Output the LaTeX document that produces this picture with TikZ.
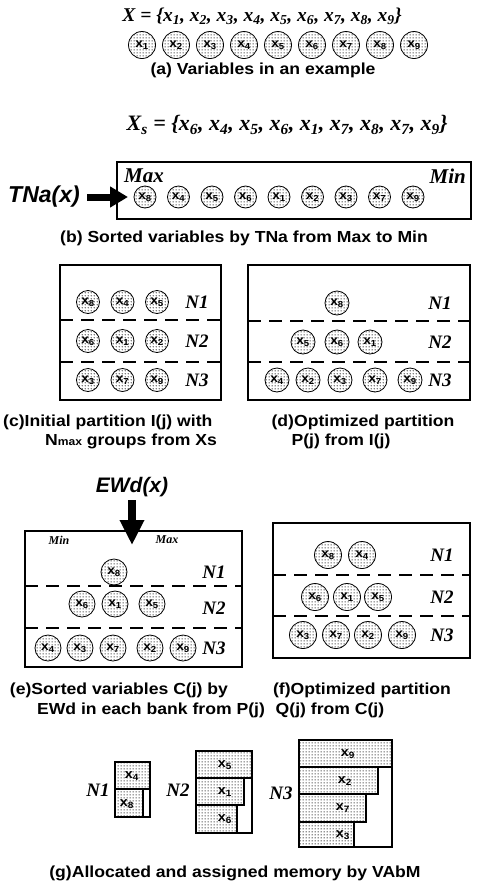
\documentclass[tikz,border=0pt]{standalone}
\usepackage{fontspec}
\setmainfont{Liberation Serif}
\setsansfont{Liberation Sans}
\newfontfamily\capfont{Liberation Sans}[FakeStretch=1.1]
\usetikzlibrary{patterns,arrows.meta}
\pgfdeclarepatternformonly{sdots}{\pgfpointorigin}{\pgfpoint{2.6pt}{2.6pt}}{\pgfpoint{2.6pt}{2.6pt}}{%
  \pgfpathcircle{\pgfpoint{1.3pt}{1.3pt}}{0.65pt}\pgfusepath{fill}}
\newcommand\sbx[1]{x\textsubscript{#1}}
\begin{document}
\begin{tikzpicture}[x=1pt,y=-1pt,
  var/.style={circle,draw,line width=0.8pt,pattern=sdots,pattern color=black,inner sep=0pt,minimum size=#1,
    font=\capfont\bfseries\fontsize{12.5}{12.5}\selectfont},
  var/.default=23pt,
  captxt/.style={font=\capfont\bfseries\fontsize{16}{18}\selectfont,inner sep=0pt},
  eqa/.style={font=\bfseries\itshape\fontsize{#1}{#1}\selectfont,inner sep=0pt},
  nlab/.style={font=\bfseries\itshape\fontsize{19}{19}\selectfont,inner sep=0pt},
  mm/.style={font=\bfseries\itshape\fontsize{#1}{#1}\selectfont,inner sep=0pt},
  panel/.style={draw,line width=1.2pt},
  dsep/.style={line width=2.6pt,dash pattern=on 13pt off 8pt},
  bigtxt/.style={font=\sffamily\bfseries\itshape\fontsize{#1}{#1}\selectfont,inner sep=0pt},
  cellbox/.style={draw,line width=2.4pt,pattern=sdots,pattern color=black},
  celltxt/.style={font=\capfont\bfseries\fontsize{13}{13}\selectfont,inner sep=0pt},
  blk/.style={draw,line width=2.4pt}]
\useasboundingbox (0,0) rectangle (478,892);
% (a)
\node[eqa=19.5] (eqa) at (262,16) {X = \{\sbx{1}, \sbx{2}, \sbx{3}, \sbx{4}, \sbx{5}, \sbx{6}, \sbx{7}, \sbx{8}, \sbx{9}\}};
\foreach \i in {1,...,9}{
  \node[var=27pt] (a\i) at ({142+34*(\i-1)},45) {\sbx{\i}};
}
\node[captxt] (capa) at (263,70) {(a) Variables in an example};
% (b)
\node[eqa=22] (eqb) at (287,125) {X\textsubscript{s} = \{\sbx{6}, \sbx{4}, \sbx{5}, \sbx{6}, \sbx{1}, \sbx{7}, \sbx{8}, \sbx{7}, \sbx{9}\}};
\draw[panel] (117,162) rectangle (471,219);
\node[mm=21,anchor=west] (bmax) at (124,176) {Max};
\node[mm=21,anchor=east] (bmin) at (466,176) {Min};
\foreach \n [count=\k] in {8,4,5,6,1,2,3,7,9}{
  \node[var=22pt] (b\n) at ({145+33.5*(\k-1)},197) {\sbx{\n}};
}
\node[bigtxt=23,anchor=east] (tna) at (80,197) {TNa(x)};
\coordinate (tnatip) at (128,197);
\draw[line width=7pt,-{Triangle[length=18pt,width=20pt]}] (87,197) -- (tnatip);
\node[captxt] (capb) at (244,238) {(b) Sorted variables by TNa from Max to Min};
% (c)
\draw[panel] (60,265) rectangle (221,400);
\draw[dsep] (60,320) -- (221,320);
\draw[dsep] (60,362) -- (221,362);
\foreach \n [count=\k] in {8,4,5}{\node[var] (c\n) at ({88+34.5*(\k-1)},302) {\sbx{\n}};}
\foreach \n [count=\k] in {6,1,2}{\node[var] (c\n) at ({88+34.5*(\k-1)},341) {\sbx{\n}};}
\foreach \n [count=\k] in {3,7,9}{\node[var] (c\n) at ({88+34.5*(\k-1)},380) {\sbx{\n}};}
\node[nlab] (cn1) at (197,302) {N1};
\node[nlab] (cn2) at (197,341) {N2};
\node[nlab] (cn3) at (197,380) {N3};
\node[captxt,anchor=west] (capc1) at (3,422) {(c)Initial partition I(j) with};
\node[captxt] (capc2) at (131,441) {N{\fontsize{11}{11}\selectfont max} groups from Xs};
% (d)
\draw[panel] (248,265) rectangle (470,400);
\draw[dsep] (248,321) -- (470,321);
\draw[dsep] (248,362) -- (470,362);
\node[var=24pt] (d8) at (337,303) {\sbx{8}};
\node[var=24pt] (d5) at (303,342) {\sbx{5}};
\node[var=24pt] (d6) at (337,342) {\sbx{6}};
\node[var=24pt] (d1) at (370,342) {\sbx{1}};
\foreach \n/\xx in {4/277,2/308,3/340,7/375,9/410}{\node[var=24pt] (d\n) at (\xx,380) {\sbx{\n}};}
\node[nlab] (dn1) at (440,303) {N1};
\node[nlab] (dn2) at (440,342) {N2};
\node[nlab] (dn3) at (440,380) {N3};
\node[captxt] (capd1) at (363,422) {(d)Optimized partition};
\node[captxt] (capd2) at (341,441) {P(j) from I(j)};
% (e)
\node[bigtxt=21] (ewd) at (132,487) {EWd(x)};
\coordinate (ewdtip) at (132,545);
\draw[panel] (25,531) rectangle (242,667);
\draw[line width=8pt,-{Triangle[length=25pt,width=23pt]}] (132,500) -- (ewdtip);
\node[mm=12] (emin) at (59,540) {Min};
\node[mm=12] (emax) at (167,540) {Max};
\draw[dsep] (25,586) -- (242,586);
\draw[dsep] (25,628) -- (242,628);
\node[var=26pt] (e8) at (114,572) {\sbx{8}};
\foreach \n/\xx in {6/82,1/115,5/152}{\node[var=26pt] (e\n) at (\xx,604) {\sbx{\n}};}
\foreach \n/\xx in {4/48,3/80,7/113,2/150,9/183}{\node[var=26pt] (e\n) at (\xx,648) {\sbx{\n}};}
\node[nlab] (en1) at (214,572) {N1};
\node[nlab] (en2) at (214,608) {N2};
\node[nlab] (en3) at (214,648) {N3};
\node[captxt] (cape1) at (119,690) {(e)Sorted variables C(j) by};
\node[captxt] (cape2) at (151,710) {EWd in each bank from P(j)};
% (f)
\draw[panel] (273,523) rectangle (470,658);
\draw[dsep] (273,575) -- (470,575);
\draw[dsep] (273,616) -- (470,616);
\foreach \n/\xx in {8/328,4/362}{\node[var=27pt] (f\n) at (\xx,555) {\sbx{\n}};}
\foreach \n/\xx in {6/315,1/347,5/378}{\node[var=27pt] (f\n) at (\xx,597) {\sbx{\n}};}
\foreach \n/\xx in {3/303,7/336,2/368,9/402}{\node[var=27pt] (f\n) at (\xx,635) {\sbx{\n}};}
\node[nlab] (fn1) at (442,555) {N1};
\node[nlab] (fn2) at (442,597) {N2};
\node[nlab] (fn3) at (442,635) {N3};
\node[captxt] (capf1) at (362,690) {(f)Optimized partition};
\node[captxt] (capf2) at (330,710) {Q(j) from C(j)};
% (g)
\node[nlab] (gn1) at (98,790) {N1};
\node[nlab] (gn2) at (178,790) {N2};
\node[nlab] (gn3) at (281,793) {N3};
\draw[cellbox] (115,762) rectangle (150,789);
\draw[cellbox] (115,789) rectangle (143,817);
\draw[blk] (115,762) rectangle (150,817);
\node[celltxt] (g4) at (132,776) {\sbx{4}};
\node[celltxt] (g8) at (127,804) {\sbx{8}};
\draw[cellbox] (196,751) rectangle (252,778);
\draw[cellbox] (196,778) rectangle (244,805);
\draw[cellbox] (196,805) rectangle (237,833);
\draw[blk] (196,751) rectangle (252,833);
\node[celltxt] (g5) at (225,765) {\sbx{5}};
\node[celltxt] (g1) at (225,792) {\sbx{1}};
\node[celltxt] (g6) at (225,819) {\sbx{6}};
\draw[cellbox] (299,740) rectangle (392,767);
\draw[cellbox] (299,767) rectangle (378,794);
\draw[cellbox] (299,794) rectangle (366,822);
\draw[cellbox] (299,822) rectangle (354,847);
\draw[blk] (299,740) rectangle (392,847);
\node[celltxt] (g9) at (348,754) {\sbx{9}};
\node[celltxt] (g2) at (345,781) {\sbx{2}};
\node[celltxt] (g7) at (343,808) {\sbx{7}};
\node[celltxt] (g3) at (343,835) {\sbx{3}};
\node[captxt] (capg) at (235,873) {(g)Allocated and assigned memory by VAbM};
\end{tikzpicture}
\end{document}
